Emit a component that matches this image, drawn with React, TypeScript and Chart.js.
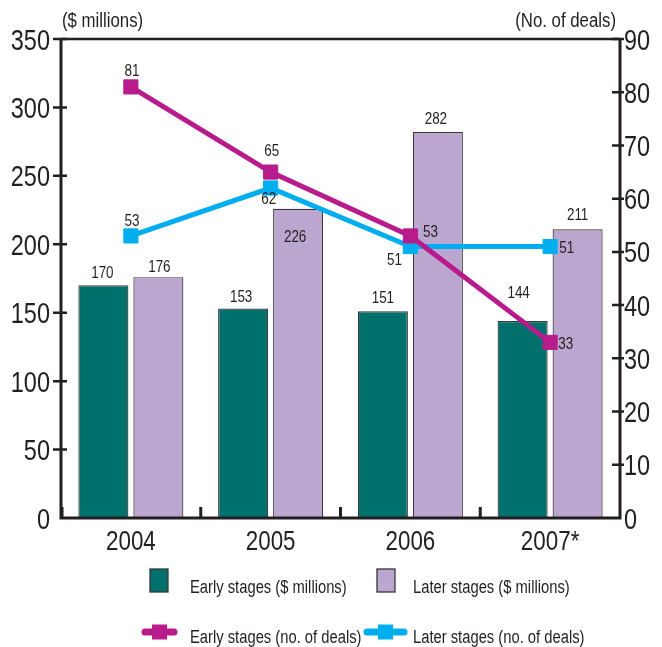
import React, { useEffect, useRef } from "react";
import { Chart, registerables } from "chart.js";

Chart.register(...registerables);

// ---- data ----
const YEARS = ["2004", "2005", "2006", "2007*"];
const EARLY_AMOUNT = [170, 153, 151, 144]; // $ millions
const LATER_AMOUNT = [176, 226, 282, 211]; // $ millions
const EARLY_DEALS = [81, 65, 53, 33]; // number of deals
const LATER_DEALS = [53, 62, 51, 51]; // number of deals

const AMOUNT_MAX = 350;
const AMOUNT_STEP = 50;
const DEALS_MAX = 90;
const DEALS_STEP = 10;

// ---- styling ----
const INK = "#231f20";
const TEAL = "#00706c";
const LAVENDER = "#bba6d0";
const MAGENTA = "#b81b8c";
const CYAN = "#00aeef";
const BAR_EDGE = "#3a3536";
const FONT = "'Liberation Sans', Arial, sans-serif";

// value label offsets [dx, dy] from each mark's anchor, per dataset
const LABEL_OFFSETS: number[][][] = [
  [[-1, -13], [-2, -12.5], [0, -14], [-4, -28.5]],
  [[1, -11], [-3, 28], [-2, -14], [0, -15]],
  [[1, -17], [1, -21.5], [20, -5], [15.5, 1]],
  [[1, -16], [-2, 10.5], [-16, 13], [16.5, 1]],
];

// condensed text: regular sans squeezed horizontally
function drawText(
  ctx: CanvasRenderingContext2D,
  text: string,
  x: number,
  y: number,
  size: number,
  align: CanvasTextAlign,
  squeeze: number
) {
  ctx.save();
  ctx.font = `${size}px ${FONT}`;
  ctx.textAlign = align;
  ctx.textBaseline = "alphabetic";
  ctx.fillStyle = INK;
  ctx.translate(x, y);
  ctx.scale(squeeze, 1);
  ctx.fillText(text, 0, 0);
  ctx.restore();
}

const framePlugin = {
  id: "frame",
  afterDraw(chart: any) {
    const { ctx, chartArea } = chart;
    const { left, right, top, bottom } = chartArea;
    const yL = chart.scales.y;
    const yR = chart.scales.y1;
    const xS = chart.scales.x;
    ctx.save();
    ctx.strokeStyle = INK;
    ctx.lineCap = "butt";

    // frame lines
    ctx.lineWidth = 3;
    ctx.beginPath();
    ctx.moveTo(left, top);
    ctx.lineTo(left, bottom + 1.5);
    ctx.moveTo(right, top);
    ctx.lineTo(right, bottom + 1.5);
    ctx.moveTo(left - 1.5, bottom);
    ctx.lineTo(right + 1.5, bottom);
    ctx.stroke();
    ctx.lineWidth = 2.5;
    ctx.beginPath();
    ctx.moveTo(left, top);
    ctx.lineTo(right, top);
    ctx.stroke();

    // y ticks crossing both axes, with their labels
    ctx.lineWidth = 2.5;
    ctx.beginPath();
    yL.ticks.forEach((t: any) => {
      const py = yL.getPixelForValue(t.value);
      if (t.value !== 0) {
        ctx.moveTo(left - 8, py);
        ctx.lineTo(left + 6, py);
      }
      drawText(ctx, String(t.value), left - 11, py + 10.5, 29, "right", 0.81);
    });
    yR.ticks.forEach((t: any) => {
      const py = yR.getPixelForValue(t.value);
      if (t.value !== 0) {
        ctx.moveTo(right - 8, py);
        ctx.lineTo(right + 4, py);
      }
      drawText(ctx, String(t.value), right + 4, py + 10.5, 29, "left", 0.81);
    });
    ctx.stroke();

    // category boundary ticks on the x axis, with the year labels
    ctx.lineWidth = 3;
    ctx.beginPath();
    const n = YEARS.length;
    for (let i = 1; i < n; i++) {
      const bx = (xS.getPixelForTick(i - 1) + xS.getPixelForTick(i)) / 2;
      ctx.moveTo(bx, bottom);
      ctx.lineTo(bx, bottom - 11);
    }
    ctx.moveTo(left + 1, bottom);
    ctx.lineTo(left + 1, bottom - 11);
    ctx.stroke();
    chart.data.labels.forEach((lab: string, i: number) => {
      drawText(ctx, lab, xS.getPixelForTick(i), bottom + 32, 28, "center", 0.8);
    });

    // axis titles
    drawText(ctx, "($ millions)", left + 1, 27, 20, "left", 0.84);
    drawText(ctx, "(No. of deals)", right - 4, 27, 20, "right", 0.84);

    // value labels
    chart.data.datasets.forEach((ds: any, di: number) => {
      const meta = chart.getDatasetMeta(di);
      meta.data.forEach((el: any, j: number) => {
        const [dx, dy] = LABEL_OFFSETS[di][j];
        drawText(ctx, String(ds.data[j]), el.x + dx, el.y + dy + 5.7, 16, "center", 0.84);
      });
    });

    // legend
    const ds = chart.data.datasets;
    const cols = [190, 413];
    const boxX = [150, 377];
    [0, 1].forEach((k) => {
      ctx.fillStyle = ds[k].backgroundColor;
      ctx.fillRect(boxX[k], 569, 18, 23);
      ctx.lineWidth = 1.3;
      ctx.strokeStyle = BAR_EDGE;
      ctx.strokeRect(boxX[k], 569, 18, 23);
      drawText(ctx, ds[k].label, cols[k], 593, 18, "left", 0.82);
    });
    const lineSpan = [
      [142, 177],
      [364, 407],
    ];
    [2, 3].forEach((k, c) => {
      const [x0, x1] = lineSpan[c];
      const cy = 632;
      ctx.strokeStyle = ds[k].borderColor;
      ctx.lineWidth = 7;
      ctx.lineCap = "round";
      ctx.beginPath();
      ctx.moveTo(x0 + 3, cy);
      ctx.lineTo(x1 - 3, cy);
      ctx.stroke();
      ctx.fillStyle = ds[k].borderColor;
      const mx = (x0 + x1) / 2;
      ctx.fillRect(mx - 7.5, cy - 7.5, 15, 15);
      drawText(ctx, ds[k].label, cols[c], 643, 18, "left", 0.82);
    });

    ctx.restore();
  },
};

export default function App() {
  const canvasRef = useRef<HTMLCanvasElement | null>(null);

  useEffect(() => {
    const canvas = canvasRef.current;
    if (!canvas) return;
    const barStyle = {
      type: "bar",
      yAxisID: "y",
      borderColor: BAR_EDGE,
      borderWidth: 1.2,
      borderSkipped: "start",
      categoryPercentage: 0.787,
      barPercentage: 0.91,
      order: 2,
    };
    const lineStyle = {
      type: "line",
      yAxisID: "y1",
      borderWidth: 5,
      pointStyle: "rect",
      pointRadius: 10,
      pointBorderWidth: 1,
      tension: 0,
      fill: false,
    };
    const chart = new Chart(canvas, {
      type: "bar",
      data: {
        labels: YEARS,
        datasets: [
          { ...barStyle, label: "Early stages ($ millions)", data: EARLY_AMOUNT, backgroundColor: TEAL },
          { ...barStyle, label: "Later stages ($ millions)", data: LATER_AMOUNT, backgroundColor: LAVENDER },
          {
            ...lineStyle,
            label: "Early stages (no. of deals)",
            data: EARLY_DEALS,
            borderColor: MAGENTA,
            backgroundColor: MAGENTA,
            pointBackgroundColor: MAGENTA,
            pointBorderColor: MAGENTA,
            order: 0,
          },
          {
            ...lineStyle,
            label: "Later stages (no. of deals)",
            data: LATER_DEALS,
            borderColor: CYAN,
            backgroundColor: CYAN,
            pointBackgroundColor: CYAN,
            pointBorderColor: CYAN,
            order: 1,
          },
        ],
      } as any,
      options: {
        responsive: false,
        animation: false,
        layout: { padding: { top: 39, left: 0, right: 0, bottom: 0 } },
        plugins: {
          legend: { display: false },
          tooltip: { enabled: false },
          title: { display: false },
        },
        scales: {
          x: {
            offset: true,
            grid: { display: false, drawTicks: false },
            border: { display: false },
            ticks: { display: false, autoSkip: false },
            afterFit: (s: any) => {
              s.height = 129;
            },
          },
          y: {
            position: "left",
            min: 0,
            max: AMOUNT_MAX,
            grid: { display: false, drawTicks: false },
            border: { display: false },
            ticks: { display: false, stepSize: AMOUNT_STEP },
            afterFit: (s: any) => {
              s.width = 61;
            },
          },
          y1: {
            position: "right",
            min: 0,
            max: DEALS_MAX,
            grid: { display: false, drawTicks: false },
            border: { display: false },
            ticks: { display: false, stepSize: DEALS_STEP },
            afterFit: (s: any) => {
              s.width = 42;
            },
          },
        },
      } as any,
      plugins: [framePlugin],
    });
    return () => chart.destroy();
  }, []);

  return (
    <div style={{ position: "absolute", left: 0, top: 0, width: 662, height: 647, background: "#fff" }}>
      <canvas ref={canvasRef} width={662} height={647} style={{ display: "block" }} />
    </div>
  );
}
